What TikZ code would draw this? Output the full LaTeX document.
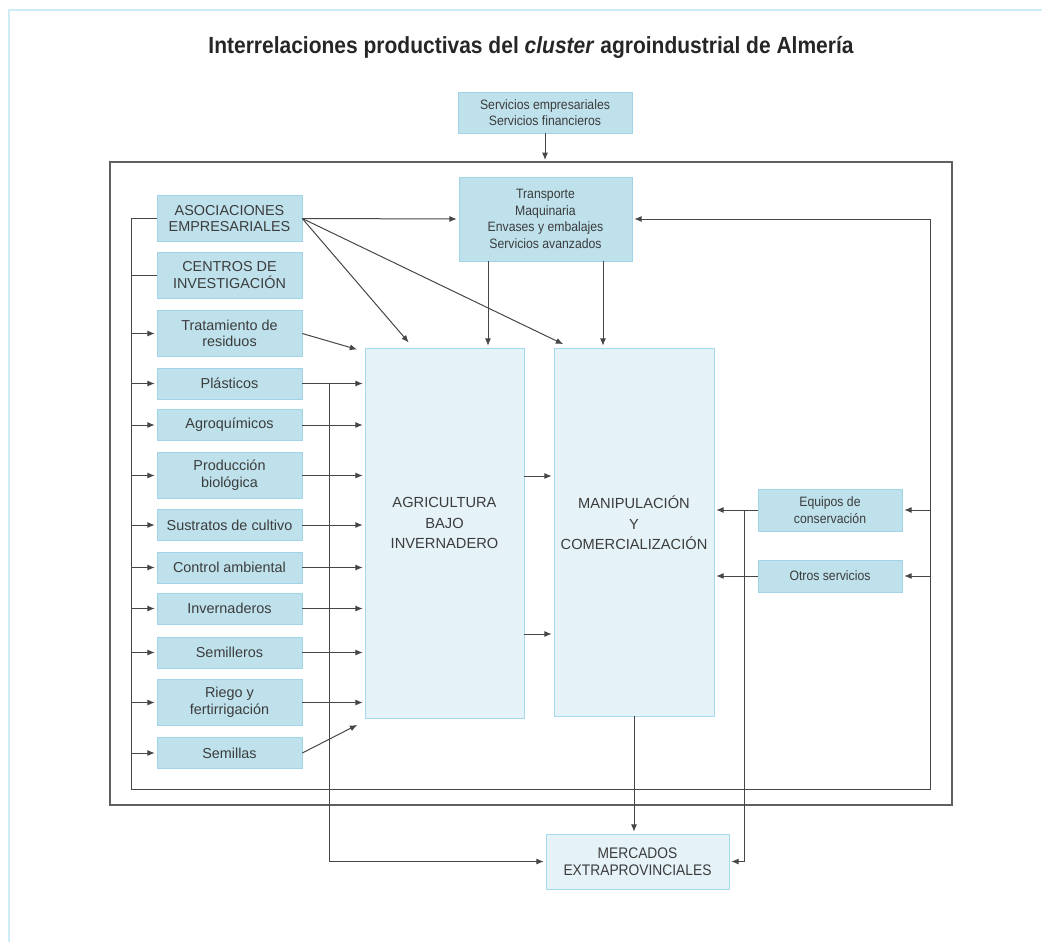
\documentclass[tikz,border=0pt]{standalone}
\usepackage{fontspec}
\setmainfont{Liberation Sans}
\newfontfamily\narrowsf{Liberation Sans}[FakeStretch=0.9]
\usetikzlibrary{arrows.meta}

\definecolor{boxfill}{RGB}{190,225,236}
\definecolor{boxline}{RGB}{160,212,230}
\definecolor{bigfill}{RGB}{229,243,248}
\definecolor{bigline}{RGB}{165,218,236}
\definecolor{linegray}{RGB}{70,70,70}
\definecolor{framegray}{RGB}{95,95,95}
\definecolor{txt}{RGB}{60,60,60}
\definecolor{pageline}{RGB}{205,236,245}

\tikzset{
  sbox/.style={draw=boxline,fill=boxfill,text=txt,align=center,inner sep=0pt,
    minimum width=108.75pt,font=\fontsize{10.8}{12.5}\selectfont},
  one/.style={minimum height=23.6pt},
  two/.style={minimum height=34.5pt},
  nbox/.style={draw=boxline,fill=boxfill,text=txt,align=center,inner sep=0pt,
    font=\narrowsf\fontsize{10.2}{12.5}\selectfont},
  bigbox/.style={draw=bigline,fill=bigfill,text=txt,align=center,inner sep=0pt},
  bigtext/.style={text=txt,align=center,font=\fontsize{11}{15.4}\selectfont},
  conn/.style={draw=linegray,line width=.75pt},
  arr/.style={conn,->,shorten >=1.5pt},
  frame/.style={draw=framegray,line width=1.1pt}
}

\begin{document}
\begin{tikzpicture}[x=0.75pt,y=-0.75pt,>={Latex[length=5.5pt,width=4.5pt]}]
        \useasboundingbox (0,0) rectangle (1042,942);
        \draw[pageline,line width=1.5pt] (9,942) -- (9,10) -- (1042,10);
        \node[anchor=base,text=black!85,font=\narrowsf\bfseries\fontsize{17.5}{20}\selectfont] (title) at (531,54)
          {Interrelaciones productivas del \textit{cluster} agroindustrial de Almería};
        % frame
        \coordinate (fnw) at (110,162);
        \coordinate (fse) at (952,805);
        \draw[frame] (fnw) rectangle (fse);
        \node[nbox,minimum width=130.5pt,minimum height=30.75pt] (serv) at (545,112.5)
          {Servicios empresariales\\Servicios financieros};
        \draw[arr] (serv) -- (serv.south |- fnw);
        % suppliers
        \node[sbox,two] (asoc) at (229.5,218.5) {ASOCIACIONES\\EMPRESARIALES};
        \node[sbox,two] (cent) at (229.5,275) {CENTROS DE\\INVESTIGACIÓN};
        \node[sbox,two] (trat) at (229.5,333.5) {Tratamiento de\\residuos};
        \node[sbox,one] (plas) at (229.5,383.5) {Plásticos};
        \node[sbox,one] (agrq) at (229.5,425) {Agroquímicos};
        \node[sbox,two] (prod) at (229.5,475.5) {Producción\\biológica};
        \node[sbox,one] (sust) at (229.5,525) {Sustratos de cultivo};
        \node[sbox,one] (ctrl) at (229.5,567.5) {Control ambiental};
        \node[sbox,one] (inve) at (229.5,608.5) {Invernaderos};
        \node[sbox,one] (smll) at (229.5,652.5) {Semilleros};
        \node[sbox,two] (rieg) at (229.5,702.5) {Riego y\\fertirrigación};
        \node[sbox,one] (smla) at (229.5,753) {Semillas};
        % core
        \node[nbox,minimum width=129.75pt,minimum height=63pt] (trans) at (545.5,219)
          {Transporte\\Maquinaria\\Envases y embalajes\\Servicios avanzados};
        \node[bigbox,minimum width=119.25pt,minimum height=277.5pt] (agri) at (444.5,533) {};
        \node[bigtext] (agrit) at (444.5,523) {AGRICULTURA\\BAJO\\INVERNADERO};
        \node[bigbox,minimum width=120pt,minimum height=276pt] (manip) at (634,532) {};
        \node[bigtext] (manipt) at (634,523) {MANIPULACIÓN\\Y\\COMERCIALIZACIÓN};
        \node[nbox,minimum width=108pt,minimum height=31.5pt] (equi) at (830,510) {Equipos de\\conservación};
        \node[nbox,minimum width=108pt,minimum height=24pt] (otro) at (830,576) {Otros servicios};
        \node[bigbox,minimum width=137.25pt,minimum height=41.25pt,
          font=\narrowsf\fontsize{11.5}{12.8}\selectfont] (merc) at (637.5,861.5) {MERCADOS\\EXTRAPROVINCIALES};
        % inner loop
        \coordinate (lt) at (131,218.5);
        \coordinate (lb) at (131,789);
        \coordinate (rb) at (930,789);
        \coordinate (rt) at (930,219);
        \draw[arr] (asoc.west) -- (lt) -- (lb) -- (rb) -- (rt) -- (trans.east);
        \draw[conn] (lt |- cent) -- (cent.west);
        \draw[arr] (lt |- trat) -- (trat.west);
        \draw[arr] (lt |- plas) -- (plas.west);
        \draw[arr] (lt |- agrq) -- (agrq.west);
        \draw[arr] (lt |- prod) -- (prod.west);
        \draw[arr] (lt |- sust) -- (sust.west);
        \draw[arr] (lt |- ctrl) -- (ctrl.west);
        \draw[arr] (lt |- inve) -- (inve.west);
        \draw[arr] (lt |- smll) -- (smll.west);
        \draw[arr] (lt |- rieg) -- (rieg.west);
        \draw[arr] (lt |- smla) -- (smla.west);
        % into agriculture
        \coordinate (agritl) at (359,350);
        \coordinate (agribl) at (359,724);
        \draw[arr] (trat.east) -- (agritl);
        \draw[arr] (plas.east) -- (plas.east -| agri.west);
        \draw[arr] (agrq.east) -- (agrq.east -| agri.west);
        \draw[arr] (prod.east) -- (prod.east -| agri.west);
        \draw[arr] (sust.east) -- (sust.east -| agri.west);
        \draw[arr] (ctrl.east) -- (ctrl.east -| agri.west);
        \draw[arr] (inve.east) -- (inve.east -| agri.west);
        \draw[arr] (smll.east) -- (smll.east -| agri.west);
        \draw[arr] (rieg.east) -- (rieg.east -| agri.west);
        \draw[arr] (smla.east) -- (agribl);
        % asociaciones
        \coordinate (agritop) at (410,344);
        \coordinate (manitop) at (565,345);
        \draw[arr] (asoc.east) -- (trans.west);
        \draw[arr] (asoc.east) -- (agritop);
        \draw[arr] (asoc.east) -- (manitop);
        % transporte
        \coordinate (ta) at (488,0);
        \coordinate (tb) at (603,0);
        \draw[arr] (trans.south -| ta) -- (agri.north -| ta);
        \draw[arr] (trans.south -| tb) -- (manip.north -| tb);
        % agri to manip
        \coordinate (am1) at (0,476);
        \coordinate (am2) at (0,634);
        \draw[arr] (agri.east |- am1) -- (manip.west |- am1);
        \draw[arr] (agri.east |- am2) -- (manip.west |- am2);
        % right side
        \draw[arr] (rt |- equi) -- (equi.east);
        \draw[arr] (rt |- otro) -- (otro.east);
        \draw[arr] (equi.west) -- (equi.west -| manip.east);
        \draw[arr] (otro.west) -- (otro.west -| manip.east);
        % mercados
        \coordinate (vl) at (329,0);
        \coordinate (vr) at (744,0);
        \draw[arr] (plas.east -| vl) -- (vl |- merc) -- (merc.west);
        \draw[arr] (equi.west -| vr) -- (vr |- merc) -- (merc.east);
        \draw[arr] (manip.south) -- (manip.south |- merc.north);
      \end{tikzpicture}
\end{document}
